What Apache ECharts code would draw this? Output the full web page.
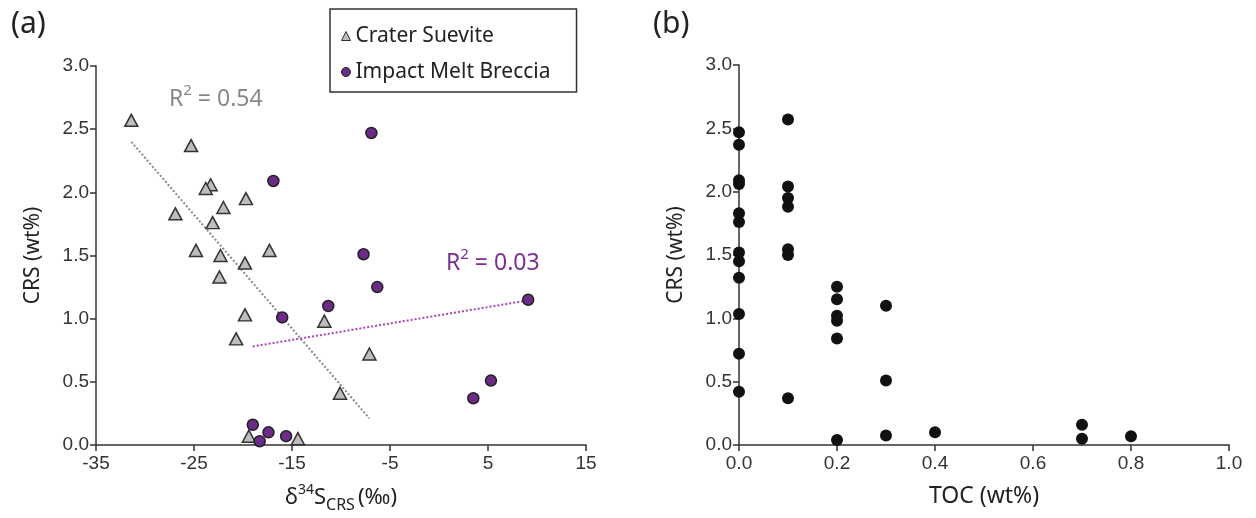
<!DOCTYPE html>
<html>
<head>
<meta charset="utf-8">
<script src="https://cdn.jsdelivr.net/npm/echarts@6/dist/echarts.min.js"></script>
<style>html,body{margin:0;padding:0;background:#fff}#c{width:1256px;height:518px}</style>
</head>
<body>
<div id="c"></div>
<script>
// Panel (a): δ34S_CRS (‰) vs CRS (wt%)
const sueviteD34S = [-31.4, -25.3, -23.3, -23.8, -19.7, -22.0, -26.9, -23.1, -24.8, -22.3, -17.3, -19.8, -22.4, -19.8, -20.7, -11.7, -10.1, -7.1, -19.4, -14.4];
const sueviteCRS  = [2.57, 2.37, 2.06, 2.03, 1.95, 1.88, 1.83, 1.76, 1.54, 1.50, 1.54, 1.44, 1.33, 1.03, 0.84, 0.98, 0.41, 0.72, 0.07, 0.05];
const meltD34S = [-6.9, -16.9, -7.7, -6.3, 9.1, -11.3, -16.0, 5.3, 3.5, -19.0, -18.3, -17.4, -15.6];
const meltCRS  = [2.47, 2.09, 1.51, 1.25, 1.15, 1.10, 1.01, 0.51, 0.37, 0.16, 0.03, 0.10, 0.07];
// regression line end points
const sueviteFitX = [-31.4, -7.1];
const sueviteFitY = [2.40, 0.21];
const meltFitX = [-19.0, 8.7];
const meltFitY = [0.78, 1.14];
// Panel (b): TOC (wt%) vs CRS (wt%)
const tocValues = [0,0,0,0,0,0,0,0,0,0,0,0, 0.1,0.1,0.1,0.1,0.1,0.1,0.1, 0.2,0.2,0.2,0.2,0.2,0.2, 0.3,0.3,0.3, 0.4, 0.7,0.7, 0.8];
const tocCRS    = [2.47,2.37,2.09,2.06,1.83,1.76,1.52,1.45,1.32,1.035,0.72,0.42, 2.57,2.04,1.95,1.88,1.545,1.50,0.37, 1.25,1.15,1.02,0.98,0.84,0.04, 1.10,0.51,0.075, 0.10, 0.16,0.05, 0.07];
// axes
const yTicks = {min: 0, max: 3, interval: 0.5};
const xTicksA = {min: -35, max: 15, interval: 10};
const xTicksB = {min: 0, max: 1, interval: 0.2};
const seriesNames = ['Crater Suevite', 'Impact Melt Breccia'];

const zip = (a, b) => a.map((v, i) => [v, b[i]]);
const tickFont = {fontFamily: 'Liberation Sans, Arial', fontSize: 19, color: '#333'};
const axisLine = {show: true, onZero: false, lineStyle: {color: '#333', width: 1.5}};
const axisTick = {show: true, inside: false, length: 6, lineStyle: {color: '#333', width: 1.5}};
const nameFont = {fontFamily: 'Noto Sans', fontSize: 21, color: '#222'};
const rStyle = (c) => ({
  r: {fontFamily: 'Noto Sans', fontSize: 23, fontWeight: 'normal', color: c, lineHeight: 28, verticalAlign: 'bottom'},
  s: {fontFamily: 'Noto Sans', fontSize: 15, fontWeight: 'normal', color: c, lineHeight: 28, verticalAlign: 'top'}
});

const chart = echarts.init(document.getElementById('c'));
chart.setOption({
  animation: false,
  backgroundColor: '#fff',
  title: [
    {text: '(a)', left: 6, top: 4, textStyle: {fontFamily: 'Noto Sans', fontSize: 30, fontWeight: 'normal', color: '#222'}},
    {text: '(b)', left: 648, top: 4, textStyle: {fontFamily: 'Noto Sans', fontSize: 30, fontWeight: 'normal', color: '#222'}},
    {text: '{r|R}{s|2}{r| = 0.54}', left: 164, top: 78, textStyle: {fontWeight: 'normal', rich: rStyle('#888')}},
    {text: '{r|R}{s|2}{r| = 0.03}', left: 441, top: 242, textStyle: {fontWeight: 'normal', rich: rStyle('#7a2f96')}}
  ],
  legend: {
    data: [
      {name: seriesNames[0], icon: 'triangle', itemStyle: {color: '#bdbdbd', borderColor: '#333', borderWidth: 1}},
      {name: seriesNames[1], icon: 'circle', itemStyle: {color: '#6d2a88', borderColor: '#222', borderWidth: 1}}
    ],
    orient: 'vertical', left: 330, top: 9,
    itemWidth: 9, itemHeight: 9, itemGap: 10,
    padding: [14, 26, 7, 11],
    borderColor: '#333', borderWidth: 1.5,
    textStyle: {fontFamily: 'Noto Sans', fontSize: 21, color: '#222', lineHeight: 26}
  },
  grid: [
    {left: 96, right: 670, top: 66, bottom: 73, containLabel: false},
    {left: 739, right: 27, top: 65, bottom: 73, containLabel: false}
  ],
  xAxis: [
    {gridIndex: 0, type: 'value', min: xTicksA.min, max: xTicksA.max, interval: xTicksA.interval,
     axisLine, axisTick, splitLine: {show: false}, axisLabel: {...tickFont, margin: 9},
     name: '{t|δ}{s|34}{t|S}{b|CRS}{t|(‰)}', nameLocation: 'middle', nameGap: 38,
     nameTextStyle: {rich: {
       t: {fontFamily: 'Noto Sans', fontSize: 22, color: '#222', lineHeight: 30, verticalAlign: 'middle'},
       s: {fontFamily: 'Noto Sans', fontSize: 14, color: '#222', lineHeight: 30, verticalAlign: 'top'},
       b: {fontFamily: 'Noto Sans', fontSize: 16, color: '#222', lineHeight: 30, verticalAlign: 'bottom', padding: [0, 3, 0, 0]}}}},
    {gridIndex: 1, type: 'value', min: xTicksB.min, max: xTicksB.max, interval: xTicksB.interval,
     axisLine, axisTick, splitLine: {show: false},
     axisLabel: {...tickFont, margin: 9, formatter: v => v.toFixed(1)},
     name: 'TOC (wt%)', nameLocation: 'middle', nameGap: 40, nameTextStyle: {...nameFont, fontSize: 23}}
  ],
  yAxis: [
    {gridIndex: 0, type: 'value', min: yTicks.min, max: yTicks.max, interval: yTicks.interval,
     axisLine, axisTick, splitLine: {show: false},
     axisLabel: {...tickFont, margin: 7, formatter: v => v.toFixed(1)},
     name: 'CRS (wt%)', nameLocation: 'middle', nameGap: 52, nameRotate: 90, nameTextStyle: nameFont},
    {gridIndex: 1, type: 'value', min: yTicks.min, max: yTicks.max, interval: yTicks.interval,
     axisLine, axisTick, splitLine: {show: false},
     axisLabel: {...tickFont, margin: 7, formatter: v => v.toFixed(1)},
     name: 'CRS (wt%)', nameLocation: 'middle', nameGap: 52, nameRotate: 90, nameTextStyle: nameFont}
  ],
  series: [
    {type: 'line', xAxisIndex: 0, yAxisIndex: 0, data: zip(sueviteFitX, sueviteFitY), symbol: 'none',
     lineStyle: {color: '#8a8a8a', width: 2, type: [2, 2]}, z: 1, silent: true},
    {type: 'line', xAxisIndex: 0, yAxisIndex: 0, data: zip(meltFitX, meltFitY), symbol: 'none',
     lineStyle: {color: '#a845b8', width: 2, type: [2, 2]}, z: 1, silent: true},
    {name: seriesNames[0], type: 'scatter', xAxisIndex: 0, yAxisIndex: 0, data: zip(sueviteD34S, sueviteCRS),
     symbol: 'triangle', symbolSize: [13, 12],
     itemStyle: {color: '#bdbdbd', borderColor: '#333', borderWidth: 1.5, opacity: 1}, z: 3},
    {name: seriesNames[1], type: 'scatter', xAxisIndex: 0, yAxisIndex: 0, data: zip(meltD34S, meltCRS),
     symbol: 'circle', symbolSize: 11,
     itemStyle: {color: '#6d2a88', borderColor: '#222', borderWidth: 1.5, opacity: 1}, z: 3},
    {type: 'scatter', xAxisIndex: 1, yAxisIndex: 1, data: zip(tocValues, tocCRS),
     symbol: 'circle', symbolSize: 12, itemStyle: {color: '#111', opacity: 1}, z: 3}
  ]
});
</script>
</body>
</html>
